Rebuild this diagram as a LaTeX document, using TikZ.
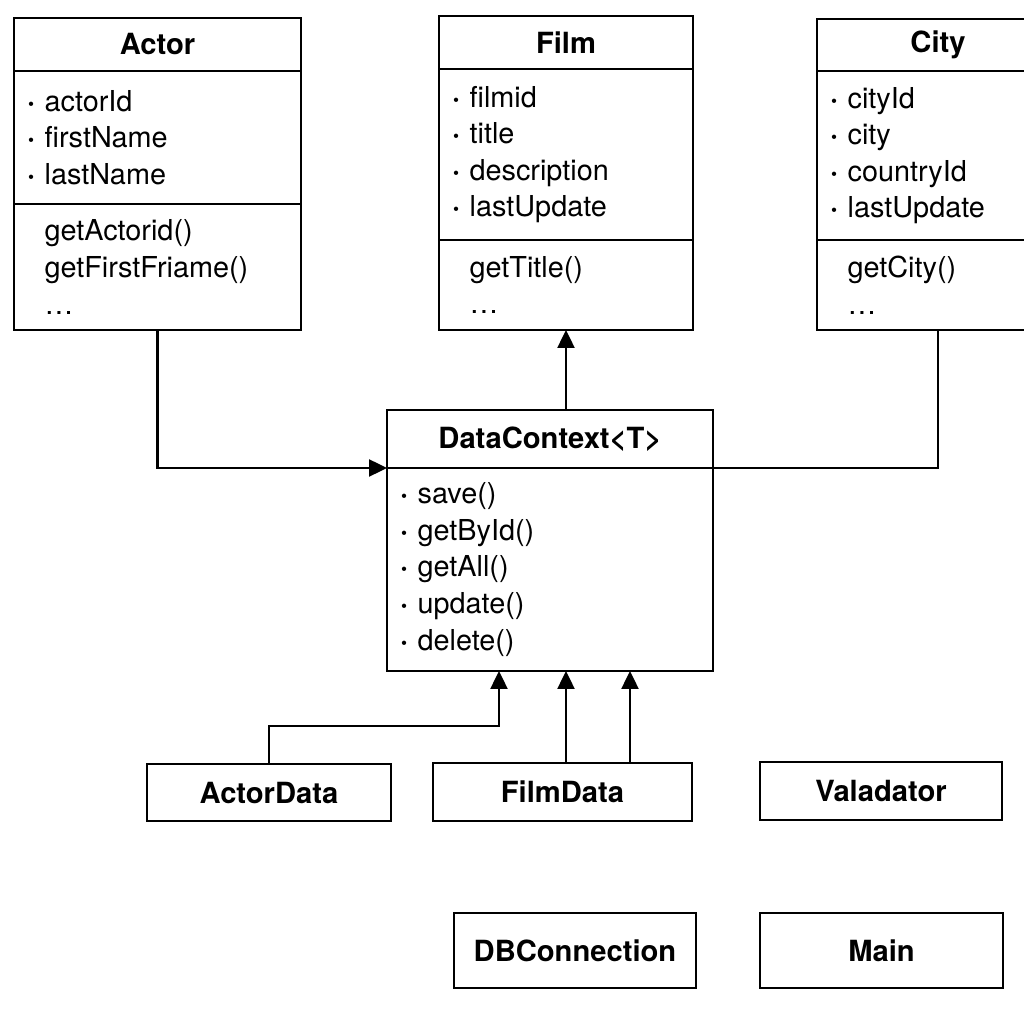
\documentclass[tikz,border=0pt]{standalone}
\usepackage{fontspec}
\setmainfont{TeX Gyre Heros}
\usetikzlibrary{positioning,arrows.meta}

\newcommand{\itm}{\textbf{·}\ }
\newcommand{\noitm}{\phantom{\textbf{·}\ }}

\begin{document}
\begin{tikzpicture}[
    head/.style={draw, line width=0.7pt, outer sep=0pt, inner sep=0pt, font=\bfseries\fontsize{8.3}{9.6}\selectfont},
    part/.style={draw, line width=0.7pt, outer sep=0pt, inner xsep=0.13cm, inner ysep=0pt, align=left, font=\fontsize{8.2}{10.4}\selectfont},
    arr/.style={-{Triangle[length=1.8mm,width=1.7mm]}, line width=0.7pt}
]
    \useasboundingbox (0,0) rectangle (10.24,10.24);

    % draw class boxes on top
    \node[head, minimum width=2.87cm, minimum height=0.53cm] (actor) at (1.575,9.795) {Actor};
    \node[part, text width=2.61cm, minimum height=1.33cm, below=0pt of actor] (actorattr) {\itm actorId\\ \itm firstName\\ \itm lastName};
    \node[part, text width=2.61cm, minimum height=1.26cm, below=0pt of actorattr] (actorops) {\noitm getActorid()\\ \noitm getFirstFriame()\\ \noitm \ldots};

    \node[head, minimum width=2.54cm, minimum height=0.53cm] (film) at (5.66,9.815) {Film};
    \node[part, text width=2.28cm, minimum height=1.71cm, below=0pt of film] (filmattr) {\itm filmid\\ \itm title\\ \itm description\\ \itm lastUpdate};
    \node[part, text width=2.28cm, minimum height=0.90cm, below=0pt of filmattr] (filmops) {\noitm getTitle()\\ \noitm \ldots};

    \node[head, minimum width=2.42cm, minimum height=0.52cm] (city) at (9.38,9.79) {City};
    \node[part, text width=2.16cm, minimum height=1.69cm, below=0pt of city] (cityattr) {\itm cityId\\ \itm city\\ \itm countryId\\ \itm lastUpdate};
    \node[part, text width=2.16cm, minimum height=0.90cm, below=0pt of cityattr] (cityops) {\noitm getCity()\\ \noitm \ldots};

    % draw generic data context
    \node[head, minimum width=3.26cm, minimum height=0.58cm] (dc) at (5.50,5.85) {DataContext<T>};
    \node[part, text width=3.00cm, minimum height=2.03cm, below=0pt of dc] (dcops) {\itm save()\\ \itm getById()\\ \itm getAll()\\ \itm update()\\ \itm delete()};

    % draw plain boxes
    \node[head, minimum width=2.44cm, minimum height=0.57cm] (actordata) at (2.69,2.315) {ActorData};
    \node[head, minimum width=2.59cm, minimum height=0.58cm] (filmdata) at (5.625,2.32) {FilmData};
    \node[head, minimum width=2.42cm, minimum height=0.58cm] (valadator) at (8.81,2.33) {Valadator};
    \node[head, minimum width=2.42cm, minimum height=0.75cm] (dbconn) at (5.75,0.735) {DBConnection};
    \node[head, minimum width=2.43cm, minimum height=0.75cm] (main) at (8.815,0.735) {Main};

    % draw connectors
    \draw[arr] (actorops.south) |- (dc.south west);
    \draw[line width=0.7pt] (cityops.south) |- (dc.south east);
    \draw[arr] (filmops.south |- dc.north) -- (filmops.south);
    \draw[arr] (actordata.north) -- ++(0,0.38) -| ([xshift=1.12cm]dcops.south west);
    \draw[arr] (filmops.south |- filmdata.north) -- (filmops.south |- dcops.south);
    \draw[arr] ([xshift=0.675cm]filmdata.north) -- ([xshift=0.675cm]filmdata.north |- dcops.south);
\end{tikzpicture}
\end{document}
